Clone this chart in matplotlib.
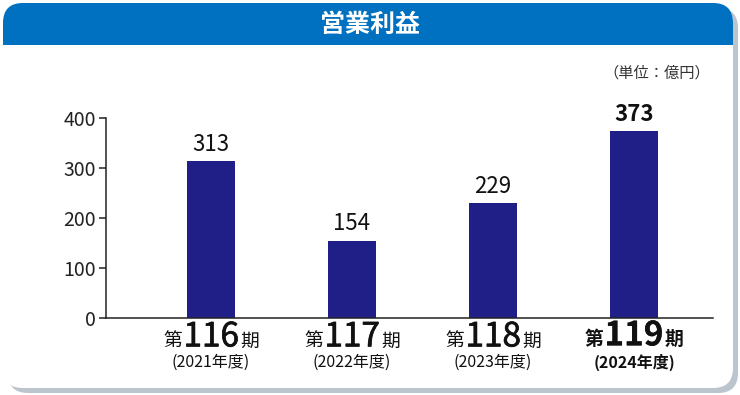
# 営業利益の棒グラフ

import matplotlib.patheffects as pe
import matplotlib.pyplot as plt
from matplotlib.offsetbox import AnnotationBbox, HPacker, TextArea
from matplotlib.patches import FancyBboxPatch

plt.rcParams["font.family"] = ["Noto Sans CJK JP", "DejaVu Sans"]

title = "営業利益"
unit = "（単位：億円）"
periods = ["116", "117", "118", "119"]
years = ["(2021年度)", "(2022年度)", "(2023年度)", "(2024年度)"]
values = [313, 154, 229, 373]
yticks = [0, 100, 200, 300, 400]

W, H = 740, 395
fig = plt.figure(figsize=(W / 100, H / 100), dpi=100)

# 背景（影・カード・見出し）
bg = fig.add_axes([0, 0, 1, 1], zorder=0)
bg.set_xlim(0, W)
bg.set_ylim(H, 0)
bg.axis("off")
r = 20
bg.add_patch(FancyBboxPatch((8 + r, 8 + r), 730 - 2 * r, 385 - 2 * r,
                            boxstyle=f"round,pad={r}", fc="#bcc5ce", ec="none"))
bg.add_patch(FancyBboxPatch((3 + r, 3 + r), 730 - 2 * r, 385 - 2 * r,
                            boxstyle=f"round,pad={r}", fc="white", ec="none"))
bg.add_patch(FancyBboxPatch((3 + r, 3 + r), 730 - 2 * r, 42 - r,
                            boxstyle=f"round,pad={r}", fc="#0070c0", ec="none"))
bg.add_patch(plt.Rectangle((3, 24), 730, 21, fc="#0070c0", ec="none"))
bg.add_patch(plt.Rectangle((3, 45), 730, 25, fc="white", ec="none"))
bg.text(370, 25, title, color="white", fontsize=18, fontweight="bold",
        ha="center", va="center")
bg.text(710, 73, unit, color="#333333", fontsize=11, ha="right", va="center")

# グラフ本体
ax = fig.add_axes([106 / W, (H - 318) / H, (713 - 106) / W, 200 / H], zorder=1)
ax.patch.set_alpha(0)
x = list(range(len(values)))
ax.bar(x, values, width=0.335, color="#1f1f87")
ax.set_xlim(-0.745, 3.56)
ax.set_ylim(0, 400)
ax.set_yticks(yticks)
ax.set_xticks([])
for s in ["top", "right"]:
    ax.spines[s].set_visible(False)
for s in ["left", "bottom"]:
    ax.spines[s].set_color("#222222")
    ax.spines[s].set_linewidth(1.1)
ax.tick_params(axis="y", length=5, width=1.1, color="#222222", pad=2,
               labelsize=14, labelcolor="#222222")

for i, v in enumerate(values):
    last = i == len(values) - 1
    fw = "bold" if last else "normal"
    ax.annotate(str(v), (i, v), xytext=(0, 4), textcoords="offset points",
                ha="center", va="bottom", fontsize=16, fontweight=fw,
                color="#111111")
    heavy = [pe.withStroke(linewidth=0.1 if last else 0.5, foreground="#111111")]
    parts = [
        TextArea("第", textprops=dict(fontsize=13.5, fontweight=fw, color="#111111")),
        TextArea(periods[i], textprops=dict(fontsize=24, fontweight=fw, color="#111111",
                                            path_effects=heavy)),
        TextArea("期", textprops=dict(fontsize=13.5, fontweight=fw, color="#111111")),
    ]
    row = HPacker(children=parts, align="baseline", pad=0, sep=1)
    ab = AnnotationBbox(row, (i, 0), xybox=(0, -1), xycoords="data",
                        boxcoords="offset points", box_alignment=(0.5, 1),
                        frameon=False, pad=0)
    ax.add_artist(ab)
    ax.annotate(years[i], (i, 0), xytext=(0, -25.5), textcoords="offset points",
                ha="center", va="top", fontsize=11.5, fontweight=fw,
                color="#111111")

fig.savefig("out.png", dpi=100)
